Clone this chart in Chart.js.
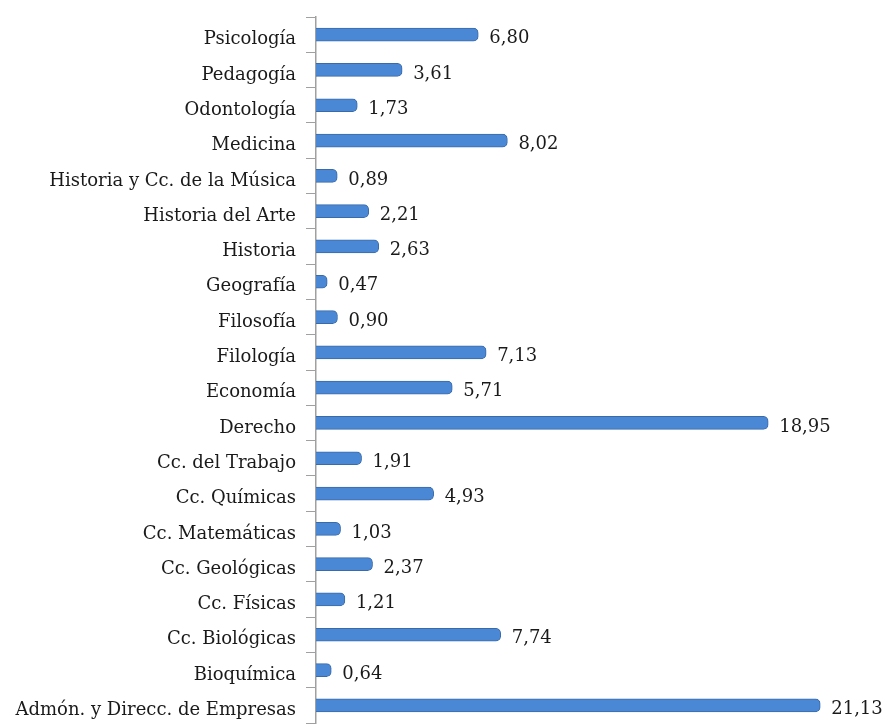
<!DOCTYPE html>
<html>
<head>
<meta charset="utf-8">
<script src="https://cdn.jsdelivr.net/npm/chart.js@4"></script>
<style>
  html, body { margin: 0; padding: 0; background: #ffffff; overflow: hidden; }
  #wrap { width: 889px; height: 729px; }
</style>
</head>
<body>
<div id="wrap"><canvas id="mainChart" width="889" height="729"></canvas></div>
<script>
const titulaciones = ['Psicología', 'Pedagogía', 'Odontología', 'Medicina', 'Historia y Cc. de la Música',
  'Historia del Arte', 'Historia', 'Geografía', 'Filosofía', 'Filología', 'Economía', 'Derecho',
  'Cc. del Trabajo', 'Cc. Químicas', 'Cc. Matemáticas', 'Cc. Geológicas', 'Cc. Físicas',
  'Cc. Biológicas', 'Bioquímica', 'Admón. y Direcc. de Empresas'];
const porcentajes = [6.80, 3.61, 1.73, 8.02, 0.89, 2.21, 2.63, 0.47, 0.90, 7.13, 5.71, 18.95,
  1.91, 4.93, 1.03, 2.37, 1.21, 7.74, 0.64, 21.13];

const fuente = '"DejaVu Serif", "Liberation Serif", serif';

// relleno tipo cilindro
function cilindro(context) {
    const el = context.element;
    const c = context.chart.ctx;
    if (!el || el.y === undefined) return '#4a88d6';
    const h = 13;
    const g = c.createLinearGradient(0, el.y - h / 2, 0, el.y + h / 2);
    g.addColorStop(0, '#5b8fd2');
    g.addColorStop(0.25, '#79aae6');
    g.addColorStop(0.5, '#4d8ad8');
    g.addColorStop(0.8, '#437fcb');
    g.addColorStop(1, '#2f609f');
    return g;
}

const etiquetas = {
    id: 'etiquetas',
    afterDatasetsDraw(chart) {
        const c = chart.ctx;
        const meta = chart.getDatasetMeta(0);
        c.save();
        c.font = '18px ' + fuente;
        c.fillStyle = '#1a1a1a';
        c.textAlign = 'left';
        c.textBaseline = 'middle';
        meta.data.forEach(function(bar, i) {
            c.fillText(porcentajes[i].toFixed(2).replace('.', ','), bar.x + 11, bar.y + 4);
        });
        c.restore();
    }
};

const ctx = document.getElementById('mainChart').getContext('2d');
const chart = new Chart(ctx, {
    type: 'bar',
    data: {
        labels: titulaciones,
        datasets: [{
            data: porcentajes,
            backgroundColor: cilindro,
            borderColor: '#3a6aa8',
            borderWidth: 1,
            borderRadius: { topRight: 5, bottomRight: 5 },
            borderSkipped: 'left',
            barThickness: 13
        }]
    },
    plugins: [etiquetas],
    options: {
        indexAxis: 'y',
        responsive: false,
        animation: false,
        layout: { padding: { top: 17, bottom: 6, right: 48, left: 0 } },
        plugins: {
            legend: { display: false },
            tooltip: { enabled: false }
        },
        scales: {
            x: {
                display: false,
                min: 0,
                max: 22
            },
            y: {
                afterFit: function(scale) {
                    scale.width = 316;
                    scale.paddingTop = 0;
                    scale.paddingBottom = 0;
                },
                grid: {
                    drawOnChartArea: false,
                    color: '#a0a0a0',
                    tickLength: 10
                },
                border: { color: '#a0a0a0', width: 1.5 },
                ticks: {
                    color: '#1a1a1a',
                    padding: 10,
                    labelOffset: 5,
                    font: { family: fuente, size: 18 }
                }
            }
        }
    }
});
</script>
</body>
</html>
